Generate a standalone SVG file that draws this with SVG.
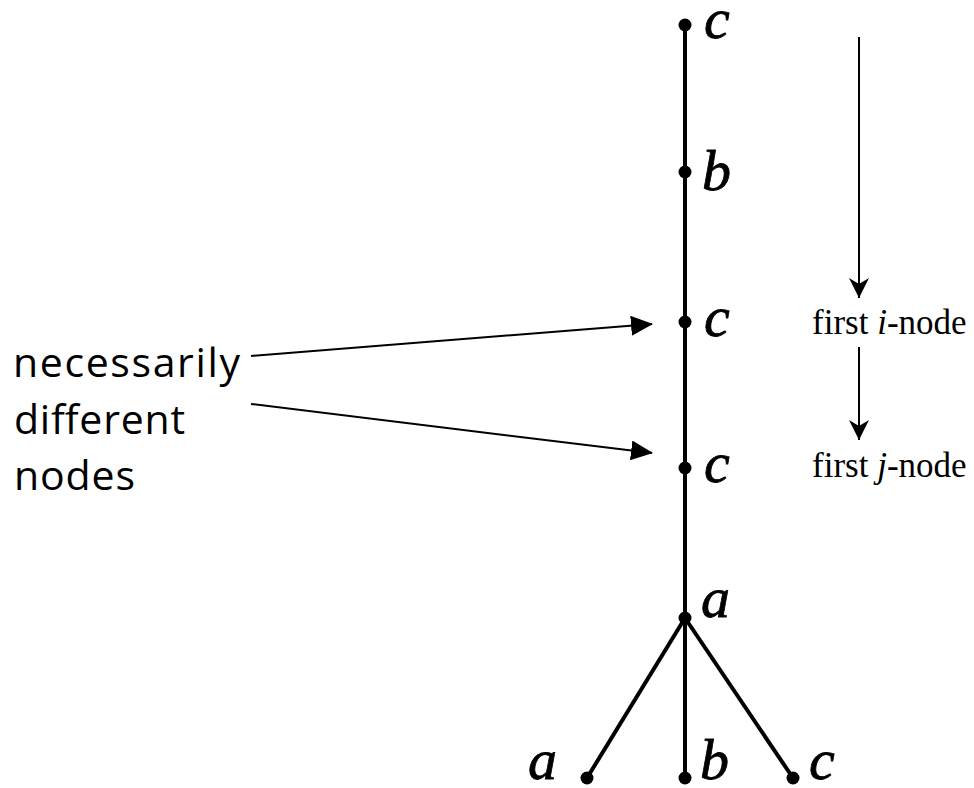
<svg xmlns="http://www.w3.org/2000/svg" width="974" height="788" viewBox="0 0 974 788">
<style>
.edge{stroke:#000;stroke-width:4;fill:none}
.arr{stroke:#000;stroke-width:2;fill:none}
.dot{fill:#000}
.lbl{font-family:"Liberation Serif","DejaVu Serif",serif;font-style:italic;font-size:58px;stroke:#000;stroke-width:0.8;fill:#000}
.sml{font-family:"Liberation Serif","DejaVu Serif",serif;font-size:35px;fill:#000}
.note{font-family:"Open Sans","Noto Sans","Liberation Sans",sans-serif;font-size:41px;fill:#000}
</style>
<defs>
<marker id="tri" markerWidth="22" markerHeight="20" refX="21" refY="10" orient="auto" markerUnits="userSpaceOnUse"><path d="M0,0 L22,10 L0,20 Z" fill="#000"/></marker>
<marker id="stealth" markerWidth="20" markerHeight="22" refX="20" refY="10" orient="auto" markerUnits="userSpaceOnUse"><path d="M0,0 L20,10 L0,20 L6,10 Z" fill="#000"/></marker>
</defs>
<g id="connectors">
<line class="edge" x1="685" y1="25" x2="685" y2="778"/>
<line class="edge" x1="685" y1="618" x2="587" y2="778"/>
<line class="edge" x1="685" y1="618" x2="793" y2="778"/>
<line class="arr" x1="859" y1="37" x2="859" y2="298" marker-end="url(#stealth)"/>
<line class="arr" x1="859" y1="347" x2="859" y2="440" marker-end="url(#stealth)"/>
<line class="arr" x1="251" y1="356" x2="652" y2="324" marker-end="url(#tri)"/>
<line class="arr" x1="251" y1="404" x2="652" y2="453" marker-end="url(#tri)"/>
</g>
<g id="n1"><circle class="dot" cx="685" cy="25" r="6.5"/><text class="lbl" x="704" y="38">c</text></g>
<g id="n2"><circle class="dot" cx="685" cy="172" r="6.5"/><text class="lbl" x="702" y="190">b</text></g>
<g id="n3"><circle class="dot" cx="685" cy="322" r="6.5"/><text class="lbl" x="704" y="336">c</text></g>
<g id="n4"><circle class="dot" cx="685" cy="468" r="6.5"/><text class="lbl" x="704" y="482">c</text></g>
<g id="n5"><circle class="dot" cx="685" cy="618" r="6.5"/><text class="lbl" x="701" y="617">a</text></g>
<g id="n6"><circle class="dot" cx="587" cy="778" r="6.5"/><text class="lbl" x="528" y="779">a</text></g>
<g id="n7"><circle class="dot" cx="685" cy="778" r="6.5"/><text class="lbl" x="700" y="779">b</text></g>
<g id="n8"><circle class="dot" cx="793" cy="778" r="6.5"/><text class="lbl" x="809" y="779">c</text></g>
<g id="labels">
<text class="sml" x="812" y="334">first <tspan font-style="italic">i</tspan>-node</text>
<text class="sml" x="812" y="477">first <tspan font-style="italic">j</tspan>-node</text>
<text class="note" x="13" y="377" textLength="227" lengthAdjust="spacing">necessarily</text>
<text class="note" x="14" y="434" textLength="171" lengthAdjust="spacing">different</text>
<text class="note" x="14" y="490" textLength="121" lengthAdjust="spacing">nodes</text>
</g>
</svg>
